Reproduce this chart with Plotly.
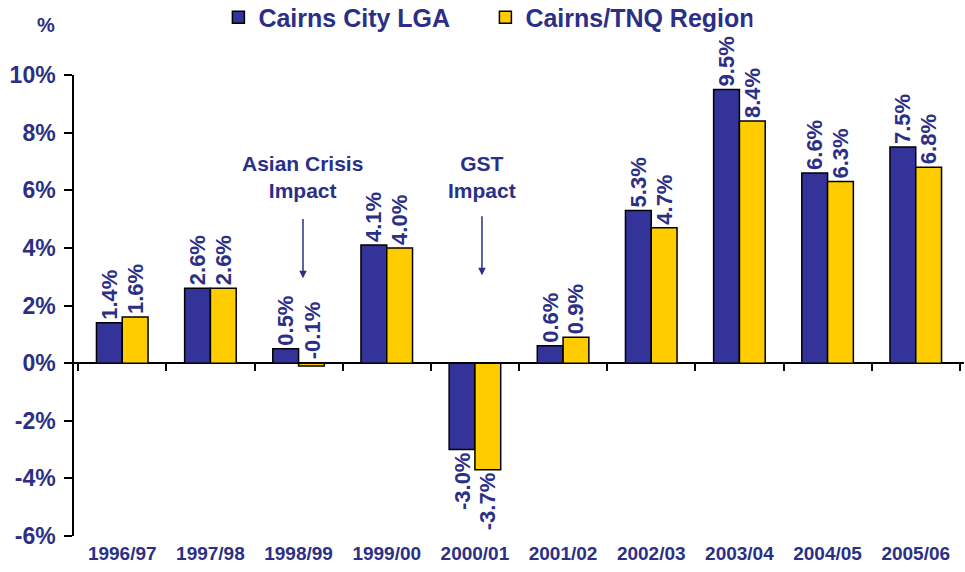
import plotly.graph_objects as go

years = ["1996/97", "1997/98", "1998/99", "1999/00", "2000/01",
         "2001/02", "2002/03", "2003/04", "2004/05", "2005/06"]
cairns_city = [1.4, 2.6, 0.5, 4.1, -3.0, 0.6, 5.3, 9.5, 6.6, 7.5]
cairns_tnq = [1.6, 2.6, -0.1, 4.0, -3.7, 0.9, 4.7, 8.4, 6.3, 6.8]
y_ticks = [-6, -4, -2, 0, 2, 4, 6, 8, 10]
y_tick_labels = ["-6%", "-4%", "-2%", "0%", "2%", "4%", "6%", "8%", "10%"]

NAVY = "#2B2F86"
BLUE = "#333399"
YELLOW = "#FFCC00"
FONT = "Liberation Sans, Arial, sans-serif"


def labels(vals):
    return [f"{v:.1f}%" for v in vals]


def positions(vals):
    # tiny negative bars get their label above the zero line (added as annotation)
    return ["none" if -0.5 < v < 0 else "outside" for v in vals]


fig = go.Figure()
for name, vals, col in [("Cairns City LGA", cairns_city, BLUE),
                        ("Cairns/TNQ Region", cairns_tnq, YELLOW)]:
    fig.add_trace(go.Bar(
        x=years, y=vals, name=name,
        marker=dict(color=col, line=dict(color="black", width=1.5)),
        text=labels(vals), textposition=positions(vals), textangle=-90,
        constraintext="none", cliponaxis=False,
        textfont=dict(family=FONT, size=22, color=NAVY, weight="bold"),
    ))

# invisible trace so the zero-line tick axis is drawn
fig.add_trace(go.Scatter(x=years, y=[None] * len(years), xaxis="x2",
                         showlegend=False, hoverinfo="skip"))

annotations = []
# labels for tiny negative values placed above the zero line
for i, v in enumerate(cairns_tnq):
    if -0.5 < v < 0:
        annotations.append(dict(
            x=years[i], y=0, xref="x", yref="y", text=f"{v:.1f}%",
            textangle=-90, showarrow=False, xanchor="center", yanchor="bottom",
            xshift=14, yshift=2,
            font=dict(family=FONT, size=22, color=NAVY, weight="bold")))

ann_font = dict(family=FONT, size=21, color=NAVY, weight="bold")
annotations += [
    dict(x=2.05, y=6.45, xref="x", yref="y", text="Asian Crisis<br>Impact",
         showarrow=False, font=ann_font, align="center"),
    dict(x=2.05, y=2.95, ax=2.05, ay=5.05, xref="x", yref="y", axref="x", ayref="y",
         text="", showarrow=True, arrowhead=2, arrowsize=1, arrowwidth=1.5,
         arrowcolor=NAVY),
    dict(x=4.08, y=6.45, xref="x", yref="y", text="GST<br>Impact",
         showarrow=False, font=ann_font, align="center"),
    dict(x=4.08, y=3.05, ax=4.08, ay=5.15, xref="x", yref="y", axref="x", ayref="y",
         text="", showarrow=True, arrowhead=2, arrowsize=1, arrowwidth=1.5,
         arrowcolor=NAVY),
    dict(x=-0.0315, y=1.108, xref="paper", yref="paper", text="%", showarrow=False,
         xanchor="center", yanchor="middle",
         font=dict(family=FONT, size=20, color=NAVY, weight="bold")),
]

fig.update_layout(
    width=965, height=572,
    margin=dict(l=74, r=1, t=75, b=36, autoexpand=False),
    paper_bgcolor="white", plot_bgcolor="white",
    barmode="group", bargap=0.415, bargroupgap=0,
    showlegend=True,
    legend=dict(orientation="h", x=0.503, y=0.9694, xref="container", yref="container",
                xanchor="center", yanchor="middle",
                font=dict(family=FONT, size=25, color=NAVY, weight="bold"),
                entrywidth=222, itemwidth=30, tracegroupgap=0,
                bgcolor="rgba(0,0,0,0)"),
    xaxis=dict(type="category", categoryorder="array", categoryarray=years,
               showline=False, ticks="", showgrid=False, zeroline=False,
               automargin=False, ticklabelstandoff=4,
               tickfont=dict(family=FONT, size=19, color=NAVY, weight="bold")),
    xaxis2=dict(type="category", categoryorder="array", categoryarray=years,
                overlaying="x", matches="x", anchor="free", position=6 / 16,
                showline=False, ticks="outside", tickson="boundaries",
                ticklen=7, tickwidth=1.5, tickcolor="black",
                showticklabels=False, showgrid=False, zeroline=False),
    yaxis=dict(range=[-6, 10], tickvals=y_ticks, ticktext=y_tick_labels,
               showline=True, linecolor="black", linewidth=1.5,
               ticks="outside", ticklen=8, tickwidth=1.5, tickcolor="black",
               showgrid=False, zeroline=True, zerolinecolor="black",
               zerolinewidth=1.5, automargin=False, ticklabelstandoff=4,
               tickfont=dict(family=FONT, size=23, color=NAVY, weight="bold")),
    annotations=annotations,
)

# remove the page's default body margin so the figure fills the window exactly
fig.write_html("out.html",
               config={"displayModeBar": False},
               post_script="document.body.style.margin='0px';"
                           "document.body.style.overflow='hidden';")
